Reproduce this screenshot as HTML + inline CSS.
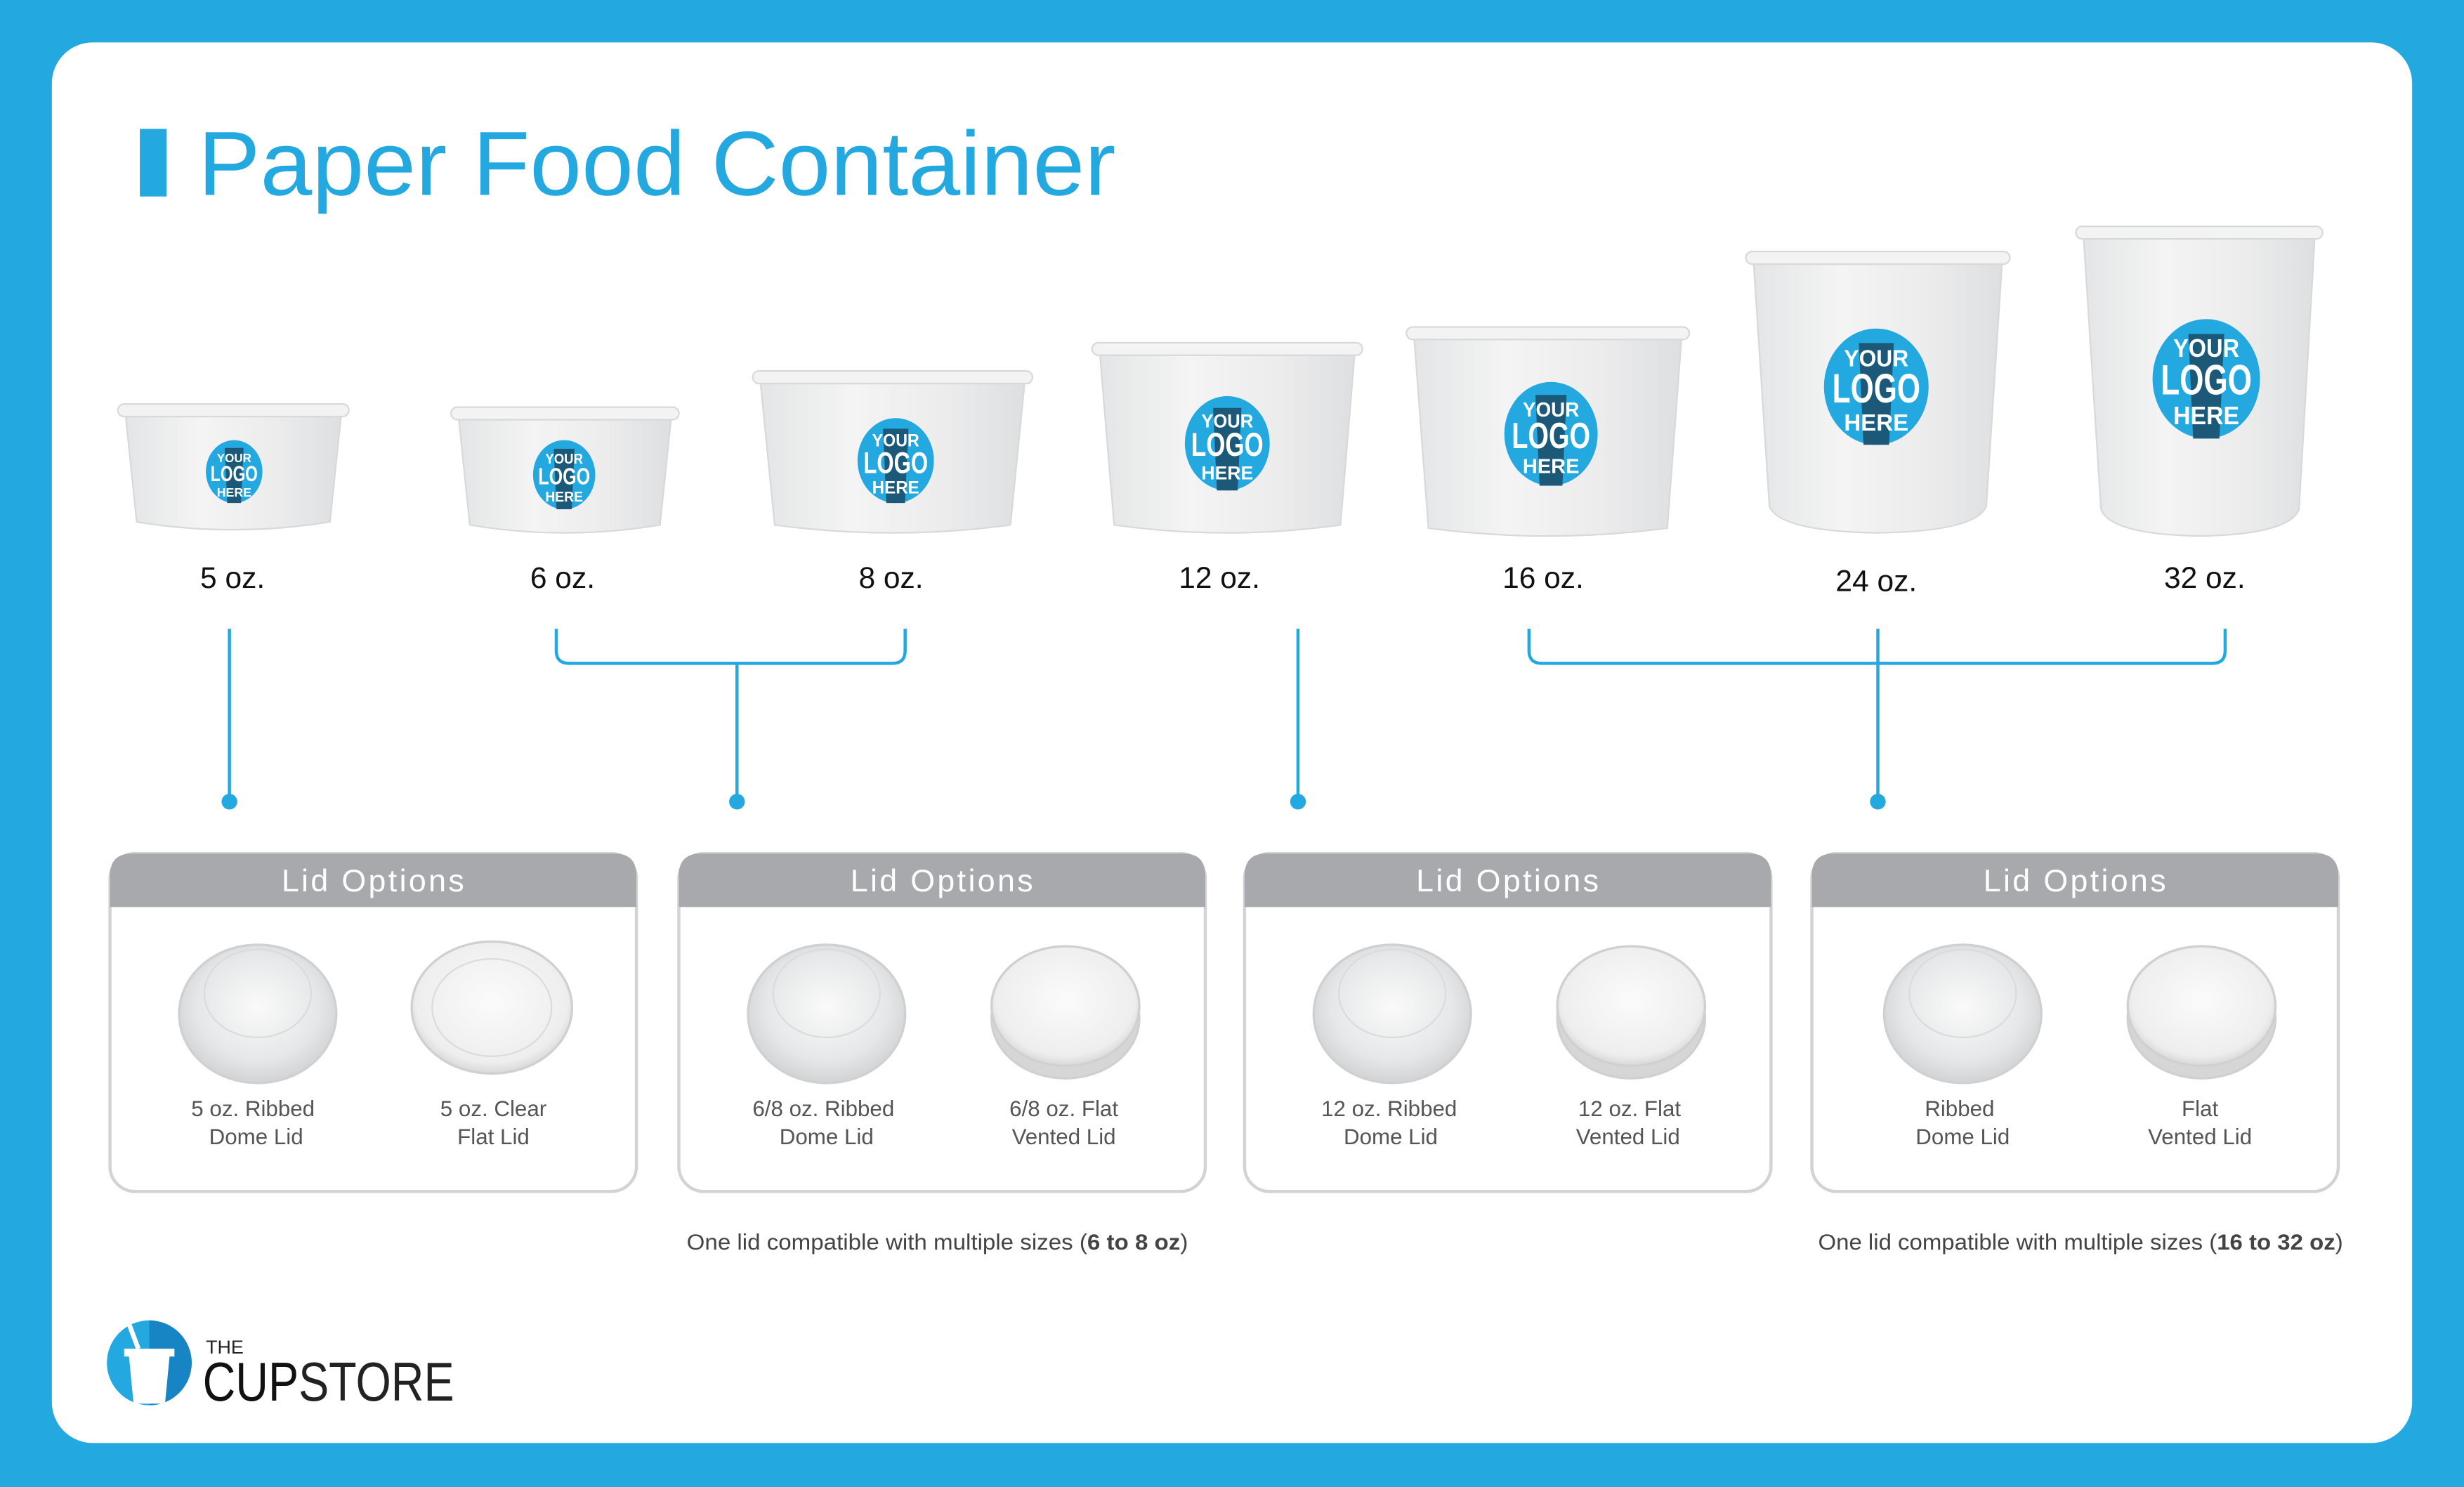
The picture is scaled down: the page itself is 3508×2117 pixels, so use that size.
<!DOCTYPE html>
<html><head><meta charset="utf-8"><style>
html,body{margin:0;padding:0;background:#23a8e0;}
svg{display:block;}
text{font-family:"Liberation Sans",sans-serif;}
</style></head><body>
<svg width="3508" height="2117" viewBox="0 0 1568 946" preserveAspectRatio="none" xmlns="http://www.w3.org/2000/svg">
<defs>
<linearGradient id="cup" x1="0" x2="1" y1="0" y2="0">
<stop offset="0" stop-color="#e4e5e6"/><stop offset="0.35" stop-color="#f4f4f4"/><stop offset="0.7" stop-color="#ececed"/><stop offset="1" stop-color="#dedfe0"/></linearGradient>
<radialGradient id="dome" cx="0.5" cy="0.45" r="0.55">
<stop offset="0" stop-color="#fafafa"/><stop offset="0.7" stop-color="#e6e7e8"/><stop offset="1" stop-color="#d2d3d4"/></radialGradient>
<radialGradient id="flat" cx="0.5" cy="0.45" r="0.55">
<stop offset="0" stop-color="#fbfbfb"/><stop offset="0.85" stop-color="#eeeeee"/><stop offset="1" stop-color="#d8d8d8"/></radialGradient>
<g id="logo">
<ellipse cx="0" cy="0" rx="0.9" ry="1" fill="#23a8e0"/>
<path d="M-0.3,-0.75 L0.3,-0.75 L0.22,1 L-0.22,1 Z" fill="#1c5878"/>
</g>
</defs>
<rect x="0" y="0" width="1568" height="946" fill="#23a8e0"/>
<rect x="33" y="27" width="1502" height="891" rx="26" fill="#ffffff"/>
<rect x="89" y="82" width="17" height="43" fill="#23a8e0"/>
<text x="126" y="124" font-size="58" fill="#23a8e0" textLength="584" lengthAdjust="spacingAndGlyphs">Paper Food Container</text>

<!-- cups -->
<g stroke="#d8d9da" stroke-width="1">
<path d="M80,265 L217,265 L210,332 Q148,342 87,332 Z" fill="url(#cup)"/>
<rect x="75" y="257" width="147" height="8" rx="4" fill="#f3f3f3"/>
<path d="M292,267 L427,267 L420,334 Q359,344 299,334 Z" fill="url(#cup)"/>
<rect x="287" y="259" width="145" height="8" rx="4" fill="#f3f3f3"/>
<path d="M484,244 L652,244 L643,334 Q568,344 493,334 Z" fill="url(#cup)"/>
<rect x="479" y="236" width="178" height="8" rx="4" fill="#f3f3f3"/>
<path d="M700,226 L862,226 L853,334 Q781,344 709,334 Z" fill="url(#cup)"/>
<rect x="695" y="218" width="172" height="8" rx="4" fill="#f3f3f3"/>
<path d="M900,216 L1070,216 L1061,336 Q985,346 909,336 Z" fill="url(#cup)"/>
<rect x="895" y="208" width="180" height="8" rx="4" fill="#f3f3f3"/>
<path d="M1116,168 L1274,168 L1264,322 Q1258,338 1195,339 Q1132,338 1126,322 Z" fill="url(#cup)"/>
<rect x="1111" y="160" width="168" height="8" rx="4" fill="#f3f3f3"/>
<path d="M1326,152 L1473,152 L1463,324 Q1457,340 1400,341 Q1343,340 1337,324 Z" fill="url(#cup)"/>
<rect x="1321" y="144" width="157" height="8" rx="4" fill="#f3f3f3"/>
</g>

<!-- logos -->
<g font-weight="bold" fill="#ffffff" text-anchor="middle">
<g transform="translate(149,300)"><use href="#logo" transform="scale(20)"/><text y="-6" font-size="8" textLength="22" lengthAdjust="spacingAndGlyphs" x="0">YOUR</text><text y="6" font-size="14" textLength="30" lengthAdjust="spacingAndGlyphs">LOGO</text><text y="16" font-size="8" textLength="22" lengthAdjust="spacingAndGlyphs">HERE</text></g>
<g transform="translate(359,302)"><use href="#logo" transform="scale(22)"/><text y="-7" font-size="9" textLength="24" lengthAdjust="spacingAndGlyphs">YOUR</text><text y="6" font-size="15" textLength="33" lengthAdjust="spacingAndGlyphs">LOGO</text><text y="17" font-size="9" textLength="24" lengthAdjust="spacingAndGlyphs">HERE</text></g>
<g transform="translate(570,293)"><use href="#logo" transform="scale(27)"/><text y="-9" font-size="11" textLength="30" lengthAdjust="spacingAndGlyphs">YOUR</text><text y="8" font-size="19" textLength="41" lengthAdjust="spacingAndGlyphs">LOGO</text><text y="21" font-size="11" textLength="30" lengthAdjust="spacingAndGlyphs">HERE</text></g>
<g transform="translate(781,282)"><use href="#logo" transform="scale(30)"/><text y="-10" font-size="12" textLength="33" lengthAdjust="spacingAndGlyphs">YOUR</text><text y="8" font-size="21" textLength="46" lengthAdjust="spacingAndGlyphs">LOGO</text><text y="23" font-size="12" textLength="33" lengthAdjust="spacingAndGlyphs">HERE</text></g>
<g transform="translate(987,276)"><use href="#logo" transform="scale(33)"/><text y="-11" font-size="13" textLength="36" lengthAdjust="spacingAndGlyphs">YOUR</text><text y="9" font-size="23" textLength="50" lengthAdjust="spacingAndGlyphs">LOGO</text><text y="25" font-size="13" textLength="36" lengthAdjust="spacingAndGlyphs">HERE</text></g>
<g transform="translate(1194,246)"><use href="#logo" transform="scale(37)"/><text y="-13" font-size="15" textLength="41" lengthAdjust="spacingAndGlyphs">YOUR</text><text y="10" font-size="26" textLength="56" lengthAdjust="spacingAndGlyphs">LOGO</text><text y="28" font-size="15" textLength="41" lengthAdjust="spacingAndGlyphs">HERE</text></g>
<g transform="translate(1404,241)"><use href="#logo" transform="scale(38)"/><text y="-14" font-size="16" textLength="42" lengthAdjust="spacingAndGlyphs">YOUR</text><text y="10" font-size="27" textLength="58" lengthAdjust="spacingAndGlyphs">LOGO</text><text y="29" font-size="16" textLength="42" lengthAdjust="spacingAndGlyphs">HERE</text></g>
</g>

<!-- size labels -->
<g font-size="19" fill="#111" text-anchor="middle">
<text x="148" y="374">5 oz.</text>
<text x="358" y="374">6 oz.</text>
<text x="567" y="374">8 oz.</text>
<text x="776" y="374">12 oz.</text>
<text x="982" y="374">16 oz.</text>
<text x="1194" y="376">24 oz.</text>
<text x="1403" y="374">32 oz.</text>
</g>

<!-- connectors -->
<g stroke="#23a8e0" stroke-width="2" fill="none">
<line x1="146" y1="400" x2="146" y2="510"/>
<path d="M354,400 L354,414 Q354,422 362,422 L568,422 Q576,422 576,414 L576,400"/>
<line x1="469" y1="422" x2="469" y2="510"/>
<line x1="826" y1="400" x2="826" y2="510"/>
<path d="M973,400 L973,414 Q973,422 981,422 L1408,422 Q1416,422 1416,414 L1416,400"/>
<line x1="1195" y1="400" x2="1195" y2="510"/>
</g>
<g fill="#23a8e0">
<circle cx="146" cy="510" r="5"/><circle cx="469" cy="510" r="5"/><circle cx="826" cy="510" r="5"/><circle cx="1195" cy="510" r="5"/>
</g>

<!-- lid boxes -->
<g>
<g transform="translate(70,543)">
<rect x="0" y="0" width="335" height="215" rx="16" fill="#fff" stroke="#d3d3d3" stroke-width="2"/>
<path d="M0,34 L0,14 Q0,0 14,0 L321,0 Q335,0 335,14 L335,34 Z" fill="#a7a9ac"/>
</g>
<g transform="translate(432,543)">
<rect x="0" y="0" width="335" height="215" rx="16" fill="#fff" stroke="#d3d3d3" stroke-width="2"/>
<path d="M0,34 L0,14 Q0,0 14,0 L321,0 Q335,0 335,14 L335,34 Z" fill="#a7a9ac"/>
</g>
<g transform="translate(792,543)">
<rect x="0" y="0" width="335" height="215" rx="16" fill="#fff" stroke="#d3d3d3" stroke-width="2"/>
<path d="M0,34 L0,14 Q0,0 14,0 L321,0 Q335,0 335,14 L335,34 Z" fill="#a7a9ac"/>
</g>
<g transform="translate(1153,543)">
<rect x="0" y="0" width="335" height="215" rx="16" fill="#fff" stroke="#d3d3d3" stroke-width="2"/>
<path d="M0,34 L0,14 Q0,0 14,0 L321,0 Q335,0 335,14 L335,34 Z" fill="#a7a9ac"/>
</g>
</g>
<g font-size="20" fill="#fff" text-anchor="middle" letter-spacing="1.5">
<text x="238" y="567">Lid Options</text>
<text x="600" y="567">Lid Options</text>
<text x="960" y="567">Lid Options</text>
<text x="1321" y="567">Lid Options</text>
</g>

<!-- lids -->
<g stroke="#cfd0d1" stroke-width="1.5">
<ellipse cx="164" cy="645" rx="50" ry="44" fill="url(#dome)"/>
<ellipse cx="313" cy="641" rx="51" ry="42" fill="url(#flat)"/>
<ellipse cx="526" cy="645" rx="50" ry="44" fill="url(#dome)"/>
<ellipse cx="678" cy="648" rx="47" ry="38" fill="#d6d6d6"/><ellipse cx="678" cy="640" rx="47" ry="38" fill="url(#flat)"/>
<ellipse cx="886" cy="645" rx="50" ry="44" fill="url(#dome)"/>
<ellipse cx="1038" cy="648" rx="47" ry="38" fill="#d6d6d6"/><ellipse cx="1038" cy="640" rx="47" ry="38" fill="url(#flat)"/>
<ellipse cx="1249" cy="645" rx="50" ry="44" fill="url(#dome)"/>
<ellipse cx="1401" cy="648" rx="47" ry="38" fill="#d6d6d6"/><ellipse cx="1401" cy="640" rx="47" ry="38" fill="url(#flat)"/>
</g>
<g stroke="#dadbdc" stroke-width="1" fill="none">
<ellipse cx="164" cy="632" rx="34" ry="28"/><ellipse cx="526" cy="632" rx="34" ry="28"/><ellipse cx="886" cy="632" rx="34" ry="28"/><ellipse cx="1249" cy="632" rx="34" ry="28"/>
<ellipse cx="313" cy="641" rx="38" ry="31"/>
</g>

<g font-size="14" fill="#555" text-anchor="middle">
<text x="161" y="710">5 oz. Ribbed</text><text x="163" y="728">Dome Lid</text>
<text x="314" y="710">5 oz. Clear</text><text x="314" y="728">Flat Lid</text>
<text x="524" y="710">6/8 oz. Ribbed</text><text x="526" y="728">Dome Lid</text>
<text x="677" y="710">6/8 oz. Flat</text><text x="677" y="728">Vented Lid</text>
<text x="884" y="710">12 oz. Ribbed</text><text x="885" y="728">Dome Lid</text>
<text x="1037" y="710">12 oz. Flat</text><text x="1036" y="728">Vented Lid</text>
<text x="1247" y="710">Ribbed</text><text x="1249" y="728">Dome Lid</text>
<text x="1400" y="710">Flat</text><text x="1400" y="728">Vented Lid</text>
</g>

<g font-size="14" fill="#444">
<text x="437" y="795" textLength="319" lengthAdjust="spacingAndGlyphs">One lid compatible with multiple sizes (<tspan font-weight="bold">6 to 8 oz</tspan>)</text>
<text x="1157" y="795" textLength="334" lengthAdjust="spacingAndGlyphs">One lid compatible with multiple sizes (<tspan font-weight="bold">16 to 32 oz</tspan>)</text>
</g>

<!-- logo -->
<circle cx="95" cy="867" r="27" fill="#23a8e0"/>
<path d="M95,840 A27,27 0 0 1 95,894 Z" fill="#1784c4"/>
<path d="M82,862 L108,862 L105,893 L85,893 Z" fill="#fff"/>
<rect x="79" y="858" width="32" height="5" fill="#fff"/>
<line x1="88" y1="858" x2="82" y2="842" stroke="#fff" stroke-width="3"/>
<text x="131" y="861" font-size="12" fill="#222">THE</text>
<text x="129" y="891" font-size="35" fill="#111" textLength="160" lengthAdjust="spacingAndGlyphs">CUP<tspan fill="#222">STORE</tspan></text>
</svg>
</body></html>
